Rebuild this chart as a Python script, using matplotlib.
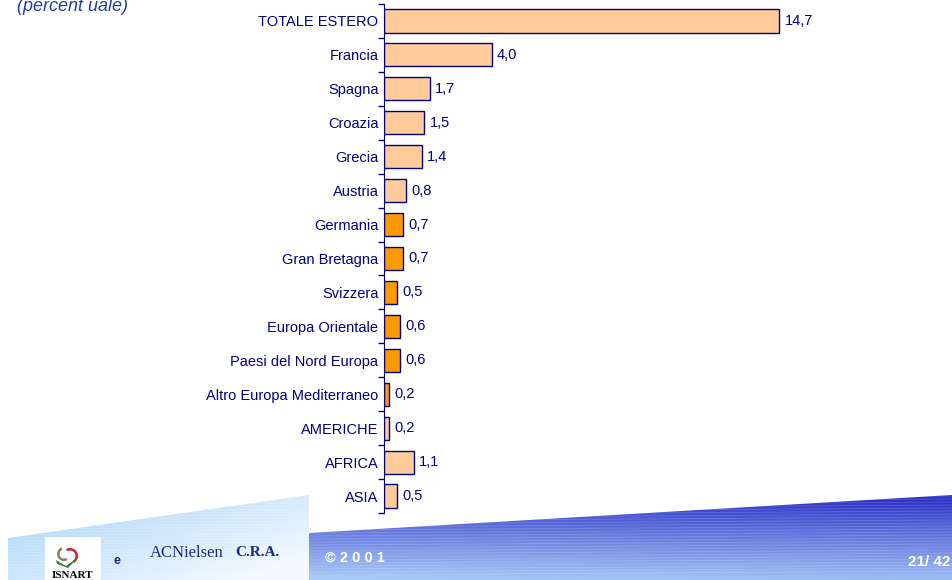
import numpy as np
import matplotlib
matplotlib.use("Agg")
import matplotlib.pyplot as plt
from matplotlib.patches import Polygon, Rectangle, Wedge

# data
labels = ["TOTALE ESTERO", "Francia", "Spagna", "Croazia", "Grecia", "Austria",
          "Germania", "Gran Bretagna", "Svizzera", "Europa Orientale",
          "Paesi del Nord Europa", "Altro Europa Mediterraneo",
          "AMERICHE", "AFRICA", "ASIA"]
values = [14.7, 4.0, 1.7, 1.5, 1.4, 0.8, 0.7, 0.7, 0.5, 0.6, 0.6, 0.2, 0.2, 1.1, 0.5]
dark = [False, False, False, False, False, False,
        True, True, True, True, True, True,
        False, False, False]

plt.rcParams['font.family'] = ['Liberation Sans', 'DejaVu Sans']
navy = '#000080'
light_or = '#FFCC99'
dark_or = '#FF9900'

W, H = 952, 580
fig = plt.figure(figsize=(W / 100, H / 100), dpi=100)

# background footer (pixel coords)
bg = fig.add_axes([0, 0, 1, 1], zorder=-1)
bg.set_xlim(0, W)
bg.set_ylim(H, 0)
bg.axis('off')

gx = np.linspace(0, 1, 200)
gy = np.linspace(0, 1, 100)
GX, GY = np.meshgrid(gx, gy)

# light blue left shape
light_poly = Polygon([(8, 538), (309, 495), (309, 580), (8, 580)], closed=True,
                     facecolor='none', edgecolor='none')
bg.add_patch(light_poly)
t = np.clip(0.6 * GX + 0.5 * GY, 0, 1)
c0 = np.array([0.64, 0.82, 0.97])
c1 = np.array([0.96, 0.98, 1.0])
img = c0[None, None, :] * (1 - t[..., None]) + c1[None, None, :] * t[..., None]
im = bg.imshow(img, extent=(8, 309, 580, 495), aspect='auto', zorder=1)
im.set_clip_path(light_poly)

# dark blue band
band = Polygon([(309, 533), (952, 495), (952, 580), (309, 580)], closed=True,
               facecolor='none', edgecolor='none')
bg.add_patch(band)
t2 = np.clip(GY ** 0.9 - 0.1 * GX, 0, 1)
d0 = np.array([0.18, 0.20, 0.78])
d1 = np.array([0.66, 0.80, 0.97])
img2 = d0[None, None, :] * (1 - t2[..., None]) + d1[None, None, :] * t2[..., None]
im2 = bg.imshow(img2, extent=(309, 952, 580, 495), aspect='auto', zorder=1)
im2.set_clip_path(band)

# faint stripe texture
for yy in np.arange(496, 580, 3):
    ln, = bg.plot([0, W], [yy, yy - 6], color='white', lw=0.6, alpha=0.18, zorder=2)
    ln.set_clip_path(band)
    ln2, = bg.plot([0, W], [yy, yy - 6], color='white', lw=0.6, alpha=0.25, zorder=2)
    ln2.set_clip_path(light_poly)

# logos and footer text
bg.add_patch(Rectangle((45, 537), 56, 43, facecolor='white', edgecolor='none', zorder=3))
bg.add_patch(Wedge((64, 554), 7, 60, 250, width=2.5, facecolor='#8a7a70',
                   edgecolor='none', zorder=4))
bg.add_patch(Wedge((70, 556), 8, -120, 60, width=2.5, facecolor='#CC2222',
                   edgecolor='none', zorder=4))
bg.add_patch(Polygon([(56, 560), (66, 566), (80, 556), (68, 568), (57, 564)],
                     closed=True, facecolor='#2a8a3a', edgecolor='none', zorder=4))
bg.text(73, 575, "ISNART", ha='center', va='center', fontsize=8,
        family='Liberation Serif', weight='bold', color='black', zorder=4)
bg.text(117, 561, "e", ha='center', va='center', fontsize=9, weight='bold',
        color='#1a2a80', zorder=4)
bg.text(150, 553, "ACNielsen", ha='left', va='center', fontsize=12,
        family='Liberation Serif', color='#1a2a80', zorder=4)
bg.text(235, 553, "C.R.A.", ha='left', va='center', fontsize=11,
        family='Liberation Serif', weight='bold', color='#1a2a80', zorder=4)
bg.text(325, 558, "\u00a9 2 0 0 1", ha='left', va='center', fontsize=10.5,
        weight='bold', color='white', zorder=4)
bg.text(908, 562, "21/ 42", ha='left', va='center', fontsize=11,
        weight='bold', color='white', zorder=4)

# subtitle (partially cut at top)
fig.text(17 / W, 1 - 11 / H, "(percent uale)", ha='left', va='baseline',
         fontsize=13, style='italic', color='#2040A0')

# bar chart
x0, y_top, y_bot = 384, 4, 513
ax = fig.add_axes([x0 / W, 1 - y_bot / H, (900 - x0) / W, (y_bot - y_top) / H])
n = len(labels)
y = np.arange(n)
colors = [dark_or if d else light_or for d in dark]
ax.barh(y, values, height=0.68, color=colors, edgecolor=navy, linewidth=1.0)
ax.set_ylim(n - 0.5, -0.5)
ax.set_xlim(0, (900 - x0) / 26.9)
for yi, v in zip(y, values):
    ax.text(v + 0.2, yi, f"{v:.1f}".replace('.', ','), va='center', ha='left',
            fontsize=10.5, color=navy)

ax.set_yticks(y)
ax.set_yticklabels(labels, fontsize=10.5, color=navy)
ax.tick_params(axis='y', which='major', length=0, pad=4)
ax.set_yticks(np.arange(-0.5, n, 1.0), minor=True)
ax.tick_params(axis='y', which='minor', length=4, color=navy, width=1)
ax.set_xticks([])
for s in ['top', 'right', 'bottom']:
    ax.spines[s].set_visible(False)
ax.spines['left'].set_color(navy)
ax.patch.set_alpha(0)

fig.savefig("out.png", dpi=100)
